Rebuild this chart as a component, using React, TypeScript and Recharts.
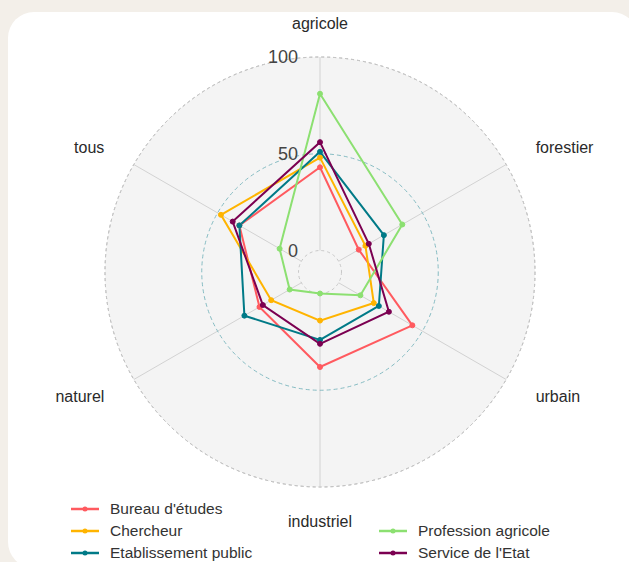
import { Legend, PolarAngleAxis, PolarGrid, PolarRadiusAxis, Radar, RadarChart } from 'recharts';

const categories = ['agricole', 'forestier', 'urbain', 'industriel', 'naturel', 'tous'];
const bureau = [43, 12, 44, 38, 25, 37];
const chercheur = [48, 16, 21, 14, 18, 48];
const etablissement = [51, 27, 24, 24, 34, 37];
const profession = [81, 38, 13, 0, 7, 13];
const service = [56, 18, 30, 26, 23, 41];
const radiusTicks = [0, 50, 100];

const seriesNames = ['Bureau d\'études', 'Chercheur', 'Etablissement public', 'Profession agricole', 'Service de l\'Etat'];
const seriesValues = [bureau, chercheur, etablissement, profession, service];
const seriesColors = ['#FF5A5F', '#FFB400', '#007A87', '#8CE071', '#7B0051'];

const data = categories.map((c, i) => {
  const row: Record<string, string | number> = { axis: c };
  seriesNames.forEach((n, k) => {
    row[n] = seriesValues[k][i];
  });
  return row;
});

const W = 629;
const H = 562;
const CX = 320;
const CY = 272;
const OUTER = 215;
const INNER = 21.5;
const LABEL_R = 249;
const FONT = '"Liberation Sans", Arial, Helvetica, sans-serif';

const rScale = (v: number) => INNER + ((OUTER - INNER) * v) / 100;

function AngleTick(props: any) {
  const { x, y, payload, textAnchor } = props;
  const cx = props.cx ?? CX;
  const cy = props.cy ?? CY;
  const dx = x - cx;
  const dy = y - cy;
  const len = Math.sqrt(dx * dx + dy * dy) || 1;
  return (
    <text
      x={cx + (dx / len) * LABEL_R}
      y={cy + (dy / len) * LABEL_R}
      textAnchor={textAnchor}
      dominantBaseline="central"
      fontSize={16}
      fontFamily={FONT}
      fill="#2a2a2a"
    >
      {payload.value}
    </text>
  );
}

function RadiusTick(props: any) {
  const { x, y, payload } = props;
  return (
    <text x={x - 22} y={y} textAnchor="end" dominantBaseline="central" fontSize={18} fontFamily={FONT} fill="#444">
      {payload.value}
    </text>
  );
}

const rowTops = [2, 24, 46];

function LegendContent(props: any) {
  const items = props.payload || [];
  return (
    <div style={{ position: 'relative', width: W, height: 65, fontFamily: FONT }}>
      {items.map((item: any, i: number) => {
        const col = i < 3 ? 0 : 1;
        const row = i < 3 ? i : i - 2;
        return (
          <div
            key={item.value}
            style={{
              position: 'absolute',
              left: col === 0 ? 70 : 378,
              top: rowTops[row],
              height: 20,
              display: 'flex',
              alignItems: 'center',
              fontSize: 15.5,
              color: '#333',
              whiteSpace: 'nowrap',
            }}
          >
            <svg width={30} height={20}>
              <line x1={1} y1={10} x2={29} y2={10} stroke={item.color} strokeWidth={2.5} />
              <circle cx={15} cy={10} r={2.5} fill={item.color} />
            </svg>
            <span style={{ marginLeft: 10 }}>{item.value}</span>
          </div>
        );
      })}
    </div>
  );
}

export default function App() {
  return (
    <div style={{ position: 'fixed', left: 0, top: 0, width: W, height: H, background: '#f3efe9', overflow: 'hidden' }}>
      <div
        style={{
          position: 'absolute',
          left: 8,
          top: 12,
          width: 630,
          height: 556,
          background: '#ffffff',
          borderRadius: 26,
        }}
      />
      <div style={{ position: 'absolute', left: 0, top: 0 }}>
        <RadarChart
          width={W}
          height={H}
          data={data}
          cx={CX}
          cy={CY}
          innerRadius={INNER}
          outerRadius={OUTER}
          margin={{ top: 0, right: 0, bottom: 0, left: 0 }}
        >
          <PolarGrid
            gridType="circle"
            radialLines={false}
            polarRadius={[OUTER]}
            fill="#f4f4f4"
            fillOpacity={1}
            stroke="#c4c4c4"
            strokeDasharray="3 3"
          />
          <PolarGrid gridType="circle" polarRadius={[]} radialLines stroke="#d2d2d2" />
          <PolarGrid
            gridType="circle"
            radialLines={false}
            polarRadius={[rScale(50)]}
            stroke="#86bcc3"
            strokeDasharray="4 3"
          />
          <PolarGrid
            gridType="circle"
            radialLines={false}
            polarRadius={[rScale(0)]}
            stroke="#c8c8c8"
            strokeDasharray="3 3"
          />
          <PolarAngleAxis dataKey="axis" tick={<AngleTick />} tickLine={false} axisLine={false} />
          <PolarRadiusAxis
            angle={90}
            domain={[0, 100]}
            ticks={radiusTicks as any}
            tick={<RadiusTick />}
            tickLine={false}
            axisLine={false}
          />
          {seriesNames.map((n, k) => (
            <Radar
              key={n}
              name={n}
              dataKey={n}
              stroke={seriesColors[k]}
              strokeWidth={2}
              fill={seriesColors[k]}
              fillOpacity={0}
              dot={{ r: 2.5, fill: seriesColors[k], fillOpacity: 1, stroke: seriesColors[k], strokeWidth: 1 }}
              isAnimationActive={false}
            />
          ))}
          <Legend content={<LegendContent />} wrapperStyle={{ left: 0, top: 497, width: W, height: 65 }} />
        </RadarChart>
      </div>
    </div>
  );
}
